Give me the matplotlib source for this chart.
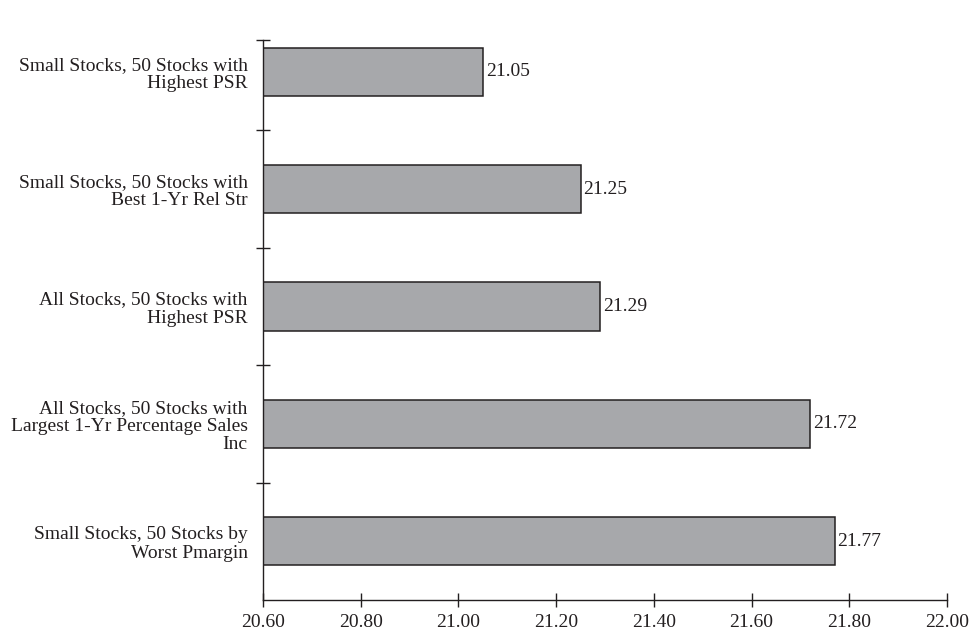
import matplotlib.pyplot as plt
import numpy as np

# categories listed top to bottom, as in the picture
categories = [
    "Small Stocks, 50 Stocks with\nHighest PSR",
    "Small Stocks, 50 Stocks with\nBest 1-Yr Rel Str",
    "All Stocks, 50 Stocks with\nHighest PSR",
    "All Stocks, 50 Stocks with\nLargest 1-Yr Percentage Sales\nInc",
    "Small Stocks, 50 Stocks by\nWorst Pmargin",
]
values = [21.05, 21.25, 21.29, 21.72, 21.77]
xticks = [20.60, 20.80, 21.00, 21.20, 21.40, 21.60, 21.80, 22.00]

plt.rcParams['font.family'] = ['Liberation Serif', 'DejaVu Serif']

fig = plt.figure(figsize=(9.73, 6.32), dpi=100)
ax = fig.add_axes([0.2703, 0.0506, 0.7030, 0.8861])

n = len(categories)
ypos = np.arange(n)[::-1]  # first category at top
base = xticks[0]
ax.barh(ypos, np.array(values) - base, left=base, height=0.41,
        color='#a7a8ab', edgecolor='#231f20', linewidth=1.1)

for y, v in zip(ypos, values):
    ax.text(v + 0.006, y, f"{v:.2f}", va='center', ha='left',
            fontsize=14, color='#231f20')

ax.set_xlim(xticks[0], xticks[-1])
top = n - 0.5 - 27 / 117.6
ax.set_ylim(-0.5, top)

ax.set_xticks(xticks)
ax.set_xticklabels([f"{t:.2f}" for t in xticks], fontsize=14, color='#231f20')
ax.tick_params(axis='x', direction='inout', length=10, width=1, color='#231f20', pad=5)

ax.set_yticks(ypos)
ax.set_yticklabels(categories, fontsize=14, color='#231f20', linespacing=1.1)
ax.tick_params(axis='y', which='major', length=0, pad=11)
ax.set_yticks(list(np.arange(n - 1) + 0.5) + [top], minor=True)
ax.tick_params(axis='y', which='minor', direction='inout', length=10, width=1, color='#231f20')

for s in ['top', 'right']:
    ax.spines[s].set_visible(False)
for s in ['left', 'bottom']:
    ax.spines[s].set_color('#231f20')
    ax.spines[s].set_linewidth(1)

fig.savefig('out.png', dpi=100)
